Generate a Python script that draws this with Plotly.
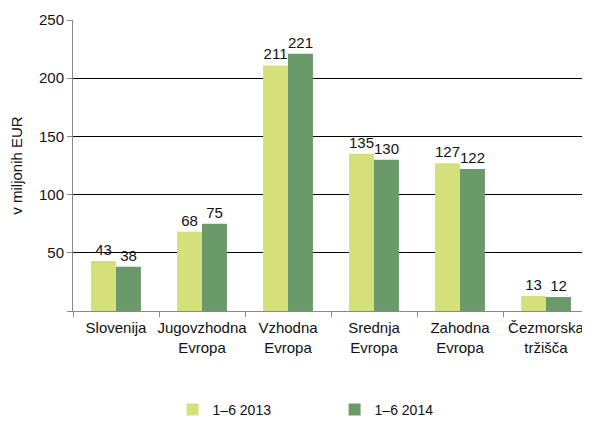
import plotly.graph_objects as go

categories = ["Slovenija", "Jugovzhodna<br>Evropa", "Vzhodna<br>Evropa", "Srednja<br>Evropa", "Zahodna<br>Evropa", "Čezmorska<br>tržišča"]
series_names = ["1–6 2013", "1–6 2014"]
values_2013 = [43, 68, 211, 135, 127, 13]
values_2014 = [38, 75, 221, 130, 122, 12]
y_ticks = [0, 50, 100, 150, 200, 250]
y_tick_labels = ["", "50", "100", "150", "200", "250"]

FONT = "Liberation Sans, Arial, sans-serif"
colors = ["#d4e07a", "#6a9a6a"]

fig = go.Figure()
for name, vals, col in zip(series_names, [values_2013, values_2014], colors):
    fig.add_trace(go.Bar(
        x=categories, y=vals, name=name, marker=dict(color=col, line=dict(width=0)),
        text=[str(v) for v in vals], textposition="outside", cliponaxis=False,
        constraintext="none",
        textfont=dict(family=FONT, size=15, color="#111111"),
    ))

# the page body adds an 8px offset, so the figure is sized to fill the rest of the window
fig.update_layout(
    width=582, height=418,
    margin=dict(l=65, r=1, t=12, b=114),
    paper_bgcolor="white", plot_bgcolor="white",
    barmode="group", bargap=0.42, bargroupgap=0,
    font=dict(family=FONT, size=14, color="#111111"),
    showlegend=True,
    legend=dict(orientation="h", x=0.193, xanchor="left", y=-0.335, yanchor="middle",
                entrywidth=117, font=dict(family=FONT, size=14), itemwidth=30),
)
fig.update_xaxes(
    showline=True, linecolor="#888888", linewidth=1,
    ticks="outside", tickson="boundaries", ticklen=5, tickcolor="#888888",
    showgrid=False, tickangle=0, tickfont=dict(family=FONT, size=15),
    ticklabelstandoff=3,
)
fig.update_yaxes(
    range=[0, 250], tickvals=y_ticks, ticktext=y_tick_labels,
    showline=True, linecolor="#888888", linewidth=1,
    ticks="outside", ticklen=5, tickcolor="#888888",
    showgrid=True, gridcolor="#000000", gridwidth=1, zeroline=False,
    title=dict(text="v miljonih EUR", font=dict(family=FONT, size=15), standoff=12),
    tickfont=dict(family=FONT, size=15),
)

fig.write_html("out.html")
